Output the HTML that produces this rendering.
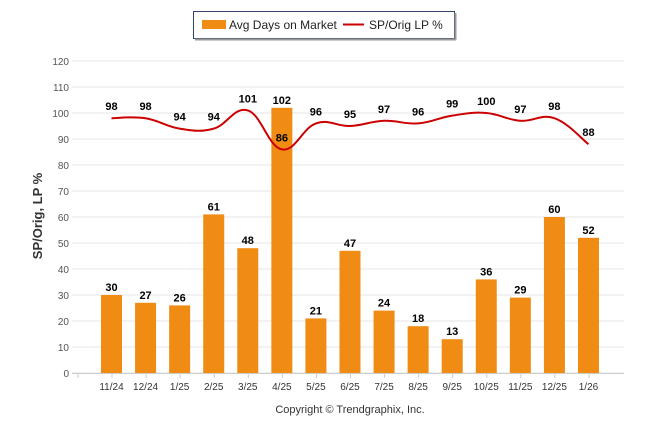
<!DOCTYPE html>
<html><head><meta charset="utf-8"><style>
body{margin:0;background:#fff;font-family:"Liberation Sans",Arial,sans-serif}
#wrap{position:relative;width:646px;height:434px;overflow:hidden}
</style></head><body>
<div id="wrap">
<svg id="c" width="646" height="434" xmlns="http://www.w3.org/2000/svg"></svg>
</div>
<script>
const categories=["11/24","12/24","1/25","2/25","3/25","4/25","5/25","6/25","7/25","8/25","9/25","10/25","11/25","12/25","1/26"];
const daysOnMarket=[30,27,26,61,48,102,21,47,24,18,13,36,29,60,52];
const spOrigLp=[98,98,94,94,101,86,96,95,97,96,99,100,97,98,88];
const yTicks=[0,10,20,30,40,50,60,70,80,90,100,110,120];
const NS="http://www.w3.org/2000/svg";
const svg=document.getElementById('c');
const y0=373,yTop=61,yMax=120;
function y(v){return y0-(v/yMax)*(y0-yTop);}
function x(i){return 111.5+i*34.07;}
function el(t,a,txt){const e=document.createElementNS(NS,t);for(const k in a)e.setAttribute(k,a[k]);if(txt!=null)e.textContent=txt;svg.appendChild(e);return e;}
// gridlines & y ticks
yTicks.forEach(v=>{
 const g=el('line',{x1:72,x2:624,y1:y(v),y2:y(v),stroke:'#e6e6e6','stroke-width':1});
 
 
 const t=el('text',{x:69,y:y(v)+4,'text-anchor':'end','font-size':10,fill:'#555'},v);
 
 
});
// x axis
const ax=el('line',{x1:72,x2:624,y1:y0+0.5,y2:y0+0.5,stroke:'#ccc'});


for(let i=-1;i<categories.length;i++){
 const tk=el('line',{x1:x(i)+0.5,x2:x(i)+0.5,y1:y0,y2:y0+5,stroke:'#ccc'});
 
 
}
categories.forEach((c,i)=>{
 const t=el('text',{x:x(i),y:390,'text-anchor':'middle','font-size':10,fill:'#333'},c);
 
 
});
// bars
daysOnMarket.forEach((v,i)=>{
 const b=el('rect',{x:x(i)-10.5,y:y(v),width:21,height:y0-y(v),fill:'#f08c14'});
 
 
 const t=el('text',{x:x(i),y:y(v)-4,'text-anchor':'middle','font-size':11,'font-weight':'bold',fill:'#000'},v);
 
 
});
// smooth line
const pts=spOrigLp.map((v,i)=>[x(i),y(v)]);
let d='M'+pts[0][0]+','+pts[0][1];
for(let i=0;i<pts.length-1;i++){
 const p0=pts[Math.max(0,i-1)],p1=pts[i],p2=pts[i+1],p3=pts[Math.min(pts.length-1,i+2)];
 const s=0.2;
 const c1=[p1[0]+(p2[0]-p0[0])*s,p1[1]+(p2[1]-p0[1])*s];
 const c2=[p2[0]-(p3[0]-p1[0])*s,p2[1]-(p3[1]-p1[1])*s];
 d+=' C'+c1+' '+c2+' '+p2;
}
const ln=el('path',{d:d,fill:'none',stroke:'#cc0000','stroke-width':2});


spOrigLp.forEach((v,i)=>{
 const t=el('text',{x:x(i),y:y(v)-8,'text-anchor':'middle','font-size':11,'font-weight':'bold',fill:'#000'},v);
 
 
});
// y axis title
const yt=el('text',{x:0,y:0,transform:'translate(42,216) rotate(-90)','text-anchor':'middle','font-size':13,'font-weight':'bold',fill:'#333'},'SP/Orig, LP %');


// legend
const lg=el('rect',{x:193.5,y:11.5,width:261,height:27,fill:'#fff',stroke:'#334466','stroke-width':1});


el('line',{x1:195,x2:456,y1:39.5,y2:39.5,stroke:'#999','stroke-width':2});
el('line',{x1:455.5,x2:455.5,y1:13,y2:40,stroke:'#999','stroke-width':2});
const ls=el('rect',{x:202,y:20,width:24,height:9,fill:'#f08c14'});


el('text',{x:229,y:29,'font-size':12,fill:'#222'},'Avg Days on Market');
const ll=el('line',{x1:343,x2:364,y1:24.5,y2:24.5,stroke:'#cc0000','stroke-width':2});


el('text',{x:369,y:29,'font-size':12,fill:'#222'},'SP/Orig LP %');
// copyright
const cp=el('text',{x:350,y:413,'text-anchor':'middle','font-size':11,fill:'#333'},'Copyright © Trendgraphix, Inc.');


</script>
</body></html>
